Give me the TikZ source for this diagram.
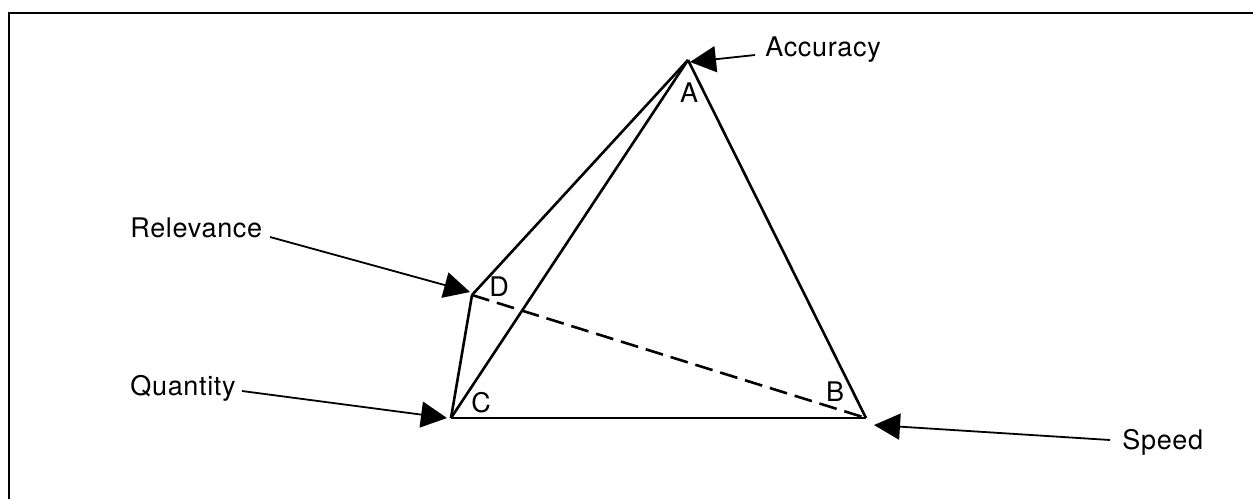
\documentclass[tikz,border=0pt]{standalone}
\usepackage{fontspec}
\setmainfont{TeX Gyre Heros}[LetterSpace=2.5]
\usetikzlibrary{arrows.meta}
\begin{document}
\begin{tikzpicture}[x=0.5pt,y=-0.5pt,
  edge/.style={line width=1.3pt},
  ptr/.style={line width=0.9pt,-{Triangle[length=13pt,width=13pt]}},
  lbl/.style={font=\fontsize{13.5}{15}\selectfont,inner sep=0pt},
  dashedge/.style={line width=1.3pt,dash pattern=on 9pt off 4pt}]
\useasboundingbox (0,0) rectangle (1253,499);
\draw[line width=1pt] (9,499) -- (9,13) -- (1253,13);
% vertices
\coordinate (A) at (688,60);
\coordinate (B) at (866,418);
\coordinate (C) at (451,418);
\coordinate (D) at (472,295);
% edges
\draw[edge] (A) -- (C);
\draw[edge] (A) -- (B);
\draw[edge] (C) -- (B);
\draw[edge] (A) -- (D);
\draw[edge] (D) -- (C);
\draw[dashedge] (D) -- (B);
% vertex letters
\node[lbl] (la) at (689,93) {A};
\node[lbl] (ld) at (499,287) {D};
\node[lbl] (lc) at (481,403) {C};
\node[lbl] (lb) at (835,392) {B};
% labels
\node[lbl,anchor=west] (acc) at (765,50) {Accuracy};
\node[lbl,anchor=west] (rel) at (130,228) {Relevance};
\node[lbl,anchor=west] (qua) at (130,388) {Quantity};
\node[lbl,anchor=west] (spd) at (1122,442) {Speed};
% pointer tips
\coordinate (tA) at (690,62);
\coordinate (tD) at (470,292);
\coordinate (tC) at (447,418);
\coordinate (tB) at (874,425);
\coordinate (sA) at (755,55);
\coordinate (sD) at (270,237);
\coordinate (sC) at (242,391);
\coordinate (sB) at (1110,440);
\draw[ptr] (sA) -- (tA);
\draw[ptr] (sD) -- (tD);
\draw[ptr] (sC) -- (tC);
\draw[ptr] (sB) -- (tB);
\end{tikzpicture}
\end{document}
